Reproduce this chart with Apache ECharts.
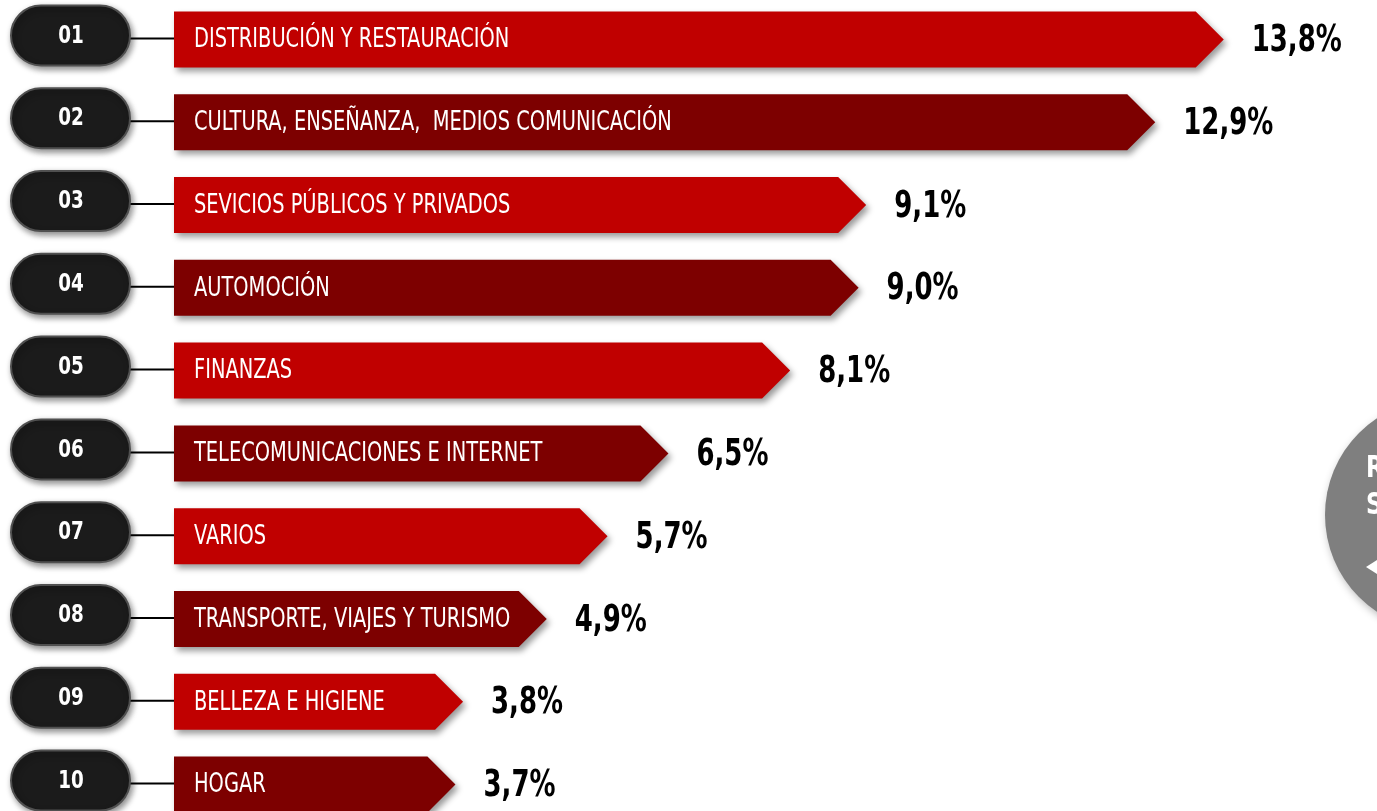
<!DOCTYPE html>
<html>
<head>
<meta charset="utf-8">
<script src="https://cdn.jsdelivr.net/npm/echarts@6/dist/echarts.min.js"></script>
<style>
  html, body { margin: 0; padding: 0; background: #fff; }
  #chart { width: 1377px; height: 811px; }
</style>
</head>
<body>
<div id="chart"></div>
<script>
// sector ranking, share in %
const categories = [
  'DISTRIBUCIÓN Y RESTAURACIÓN',
  'CULTURA, ENSEÑANZA,  MEDIOS COMUNICACIÓN',
  'SEVICIOS PÚBLICOS Y PRIVADOS',
  'AUTOMOCIÓN',
  'FINANZAS',
  'TELECOMUNICACIONES E INTERNET',
  'VARIOS',
  'TRANSPORTE, VIAJES Y TURISMO',
  'BELLEZA E HIGIENE',
  'HOGAR'
];
const values = [13.8, 12.9, 9.1, 9.0, 8.1, 6.5, 5.7, 4.9, 3.8, 3.7];
const rankLabels = ['01', '02', '03', '04', '05', '06', '07', '08', '09', '10'];
const barColors = ['#c00000', '#7d0000'];

const condensed = '"DejaVu Sans Condensed", "Liberation Sans Narrow", Roboto, sans-serif';

var myChart = echarts.init(document.getElementById('chart'));

function renderRow(params, api) {
  var idx = api.value(1);
  var v = api.value(0);
  var start = api.coord([0, idx]);
  var end = api.coord([v, idx]);
  var y = start[1];
  var h = 56;
  var tip = 28;
  var pillY = y - 4;
  return {
    type: 'group',
    children: [
      {
        type: 'line',
        shape: { x1: 128, y1: y - 1, x2: start[0], y2: y - 1 },
        style: { stroke: '#000', lineWidth: 2 }
      },
      {
        type: 'rect',
        shape: { x: 11, y: pillY - 30, width: 119, height: 60, r: 30 },
        style: {
          fill: '#1b1b1b', stroke: '#505050', lineWidth: 2,
          shadowBlur: 6, shadowOffsetX: 2, shadowOffsetY: 3, shadowColor: 'rgba(0,0,0,0.45)'
        }
      },
      {
        type: 'text',
        x: 71, y: pillY + 1, scaleX: 0.85,
        style: {
          text: rankLabels[idx], fill: '#fff', align: 'center', verticalAlign: 'middle',
          font: 'bold 24px ' + condensed
        }
      },
      {
        type: 'polygon',
        shape: {
          points: [
            [start[0], y - h / 2],
            [end[0] - tip, y - h / 2],
            [end[0], y],
            [end[0] - tip, y + h / 2],
            [start[0], y + h / 2]
          ]
        },
        style: {
          fill: barColors[idx % 2],
          shadowBlur: 6, shadowOffsetX: 3, shadowOffsetY: 4, shadowColor: 'rgba(0,0,0,0.4)'
        }
      },
      {
        type: 'text',
        x: start[0] + 20, y: y + 1, scaleX: 0.83,
        style: {
          text: categories[idx], fill: '#fff', align: 'left', verticalAlign: 'middle',
          font: '26px ' + condensed
        }
      },
      {
        type: 'text',
        x: end[0] + 28, y: y + 2, scaleX: 0.78,
        style: {
          text: values[idx].toFixed(1).replace('.', ',') + '%', fill: '#000',
          align: 'left', verticalAlign: 'middle',
          font: 'bold 37px ' + condensed
        }
      }
    ]
  };
}

var option = {
  animation: false,
  grid: { left: 174, width: 1141, top: -2, height: 828, outerBoundsMode: 'none' },
  xAxis: { type: 'value', min: 0, max: 15, show: false },
  yAxis: { type: 'category', data: categories, inverse: true, show: false },
  graphic: [
    {
      type: 'circle',
      shape: { cx: 1441, cy: 515, r: 116 },
      style: { fill: '#7f7f7f', shadowBlur: 8, shadowOffsetX: 2, shadowOffsetY: 3, shadowColor: 'rgba(0,0,0,0.3)' }
    },
    {
      type: 'text', x: 1366, y: 469, scaleX: 0.85,
      style: { text: 'R', fill: '#fff', font: 'bold 30px ' + condensed, verticalAlign: 'middle' }
    },
    {
      type: 'text', x: 1366, y: 506, scaleX: 0.85,
      style: { text: 'S', fill: '#fff', font: 'bold 30px ' + condensed, verticalAlign: 'middle' }
    },
    {
      type: 'polygon',
      shape: { points: [[1366, 567], [1380, 558], [1380, 576]] },
      style: { fill: '#fff' }
    }
  ],
  series: [{
    type: 'custom',
    renderItem: renderRow,
    data: values.map(function (v, i) { return [v, i]; }),
    encode: { x: 0, y: 1 },
    clip: false
  }]
};
myChart.setOption(option);
</script>
</body>
</html>
